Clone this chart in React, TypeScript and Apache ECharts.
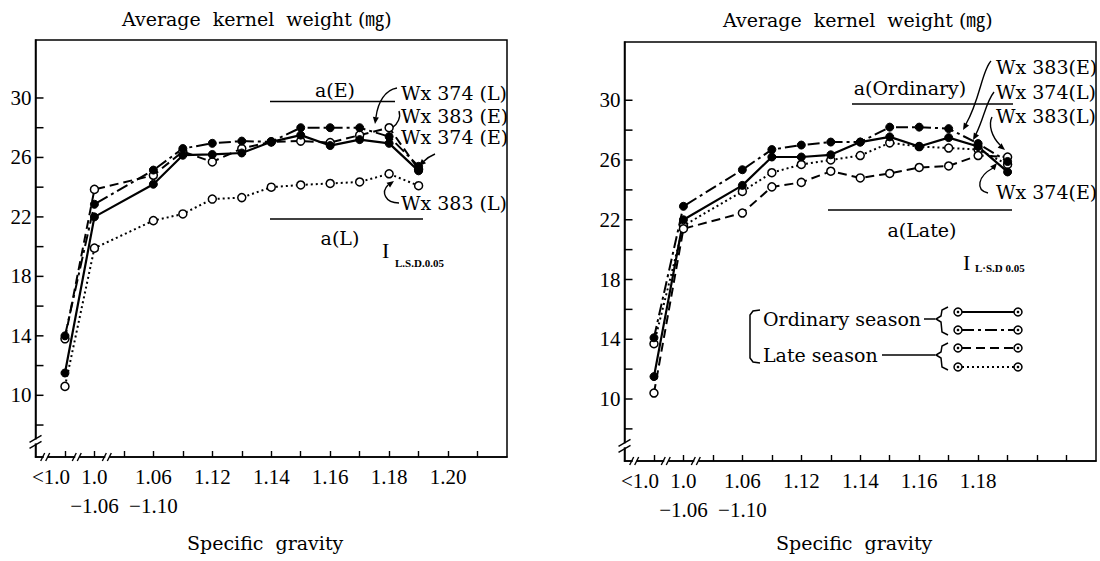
import React, { useEffect, useRef } from "react";
import * as echarts from "echarts";

// ---------- data ----------
const SG_CLASSES = ["<1.0", "1.0−1.06", "1.06−1.10", "1.11", "1.12", "1.13", "1.14", "1.15", "1.16", "1.17", "1.18", "1.19"];

// tick labels of the specific-gravity axis (one per tick, from tick 0)
const X_LABELS_LEFT = ["<1.0", "1.0\n−1.06", "", "1.06\n−1.10", "", "1.12", "", "1.14", "", "1.16", "", "1.18", "", "1.20", "", ""];
const X_LABELS_RIGHT = ["<1.0", "1.0\n−1.06", "", "1.06\n−1.10", "", "1.12", "", "1.14", "", "1.16", "", "1.18", "", "", "", ""];

const Y_TICKS = [8, 10, 12, 14, 16, 18, 20, 22, 24, 26, 28, 30];
const Y_LABELS = [10, 14, 18, 22, 26, 30];

// left panel (mg)
const L_WX374E = [11.5, 22.0, 24.2, 26.15, 26.2, 26.3, 27.05, 27.5, 26.8, 27.2, 26.95, 25.1]; // solid
const L_WX374L = [14.0, 22.85, 25.15, 26.6, 26.95, 27.1, 27.05, 28.0, 28.0, 28.0, 27.4, 25.4]; // dash-dot
const L_WX383E = [13.8, 23.85, 24.8, 26.4, 25.7, 26.6, 27.05, 27.1, 27.0, 27.5, 28.0, 25.2]; // dashed
const L_WX383L = [10.6, 19.9, 21.75, 22.2, 23.2, 23.3, 24.0, 24.15, 24.25, 24.35, 24.9, 24.1]; // dotted

// right panel (mg)
const R_ORD_SOLID = [11.5, 22.0, 24.3, 26.2, 26.2, 26.35, 27.2, 27.55, 26.9, 27.5, 26.9, 25.2];
const R_ORD_DASHDOT = [14.1, 22.9, 25.35, 26.7, 27.0, 27.2, 27.2, 28.2, 28.2, 28.1, 27.1, 25.9];
const R_LATE_DASHED = [10.4, 21.4, 22.45, 24.2, 24.5, 25.25, 24.8, 25.1, 25.5, 25.6, 26.3, 26.2];
const R_LATE_DOTTED = [13.7, 21.6, 23.9, 25.15, 25.7, 26.0, 26.3, 27.15, 26.9, 26.8, 26.7, 25.7];

// ---------- styling ----------
const NUM_FONT = '"Liberation Serif", "Times New Roman", serif';
const TXT_FONT = '"DejaVu Serif", "Noto Sans CJK JP", serif';
const Y_MIN = 5.85;
const Y_MAX = 33.9;
const DASHDOT = [12, 4, 3, 4];
const DASHED = [9, 5];
const DOTTED = [2, 3];

// axis position of each class (one empty tick after the second class)
const axisPos = (i: number) => (i < 2 ? i : i + 1);
const toPoints = (vals: number[]) => vals.map((v, i) => [axisPos(i), v]);

function lineSeries(name: string, vals: number[], grid: number, dash: any, filled: boolean, width: number) {
  return {
    name,
    type: "line",
    xAxisIndex: grid,
    yAxisIndex: grid,
    data: toPoints(vals),
    symbol: "circle",
    symbolSize: 8,
    lineStyle: { color: "#000", width, type: dash },
    itemStyle: filled
      ? { color: "#000", borderColor: "#000", borderWidth: 1 }
      : { color: "#fff", borderColor: "#000", borderWidth: 1.5 },
    z: 3,
  };
}

function tickSeries(grid: number) {
  return {
    type: "custom",
    xAxisIndex: grid,
    yAxisIndex: grid,
    clip: false,
    silent: true,
    z: 5,
    data: Y_TICKS.map((v) => [-1, v]),
    renderItem: (params: any, api: any) => {
      const v = api.value(1);
      const p = api.coord([-1, v]);
      const children: any[] = [
        { type: "line", shape: { x1: p[0], y1: p[1], x2: p[0] + 8, y2: p[1] }, style: { stroke: "#000", lineWidth: 1.5 } },
      ];
      if (Y_LABELS.indexOf(v) >= 0) {
        children.push({
          type: "text",
          x: p[0] - 4,
          y: p[1],
          style: {
            text: String(v),
            fill: "#000",
            fontSize: 21,
            fontFamily: NUM_FONT,
            align: "right",
            verticalAlign: "middle",
            textAlign: "right",
            textVerticalAlign: "middle",
          },
        });
      }
      return { type: "group", children };
    },
  };
}

function breakSeries(grid: number) {
  return {
    type: "custom",
    xAxisIndex: grid,
    yAxisIndex: grid,
    clip: false,
    silent: true,
    z: 6,
    data: [
      [-0.62, Y_MIN, 0],
      [0.45, Y_MIN, 0],
      [1.47, Y_MIN, 0],
      [-1, 6.9, 1],
    ],
    renderItem: (params: any, api: any) => {
      const p = api.coord([api.value(0), api.value(1)]);
      const kind = api.value(2);
      const st = { stroke: "#000", lineWidth: 1.4 };
      if (kind === 0) {
        return {
          type: "group",
          children: [
            { type: "rect", shape: { x: p[0] - 3, y: p[1] - 2.5, width: 4, height: 5 }, style: { fill: "#fff" } },
            { type: "line", shape: { x1: p[0] - 6, y1: p[1] + 4, x2: p[0] - 2, y2: p[1] - 4 }, style: st },
            { type: "line", shape: { x1: p[0] - 1, y1: p[1] + 4, x2: p[0] + 3, y2: p[1] - 4 }, style: st },
          ],
        };
      }
      return {
        type: "group",
        children: [
          { type: "rect", shape: { x: p[0] - 2.5, y: p[1] - 2, width: 5, height: 4 }, style: { fill: "#fff" } },
          { type: "line", shape: { x1: p[0] - 6, y1: p[1] + 1, x2: p[0] + 6, y2: p[1] - 6 }, style: st },
          { type: "line", shape: { x1: p[0] - 6, y1: p[1] + 7, x2: p[0] + 6, y2: p[1] }, style: st },
        ],
      };
    },
  };
}

function xAxis(grid: number, labels: string[]) {
  return {
    type: "value",
    gridIndex: grid,
    min: -1,
    max: 15,
    interval: 1,
    axisLine: { onZero: false, lineStyle: { color: "#000", width: 1.5 } },
    axisTick: { inside: true, length: 6, lineStyle: { color: "#000", width: 1.4 } },
    splitLine: { show: false },
    axisLabel: {
      show: true,
      showMinLabel: false,
      showMaxLabel: false,
      margin: 5,
      color: "#000",
      fontFamily: NUM_FONT,
      fontSize: 21,
      lineHeight: 29,
      formatter: (v: number) => {
        const s = labels[Math.round(v)] || "";
        if (!s) return "";
        if (s === "<1.0") return "{lt|<1.0}";
        return s;
      },
      rich: {
        lt: { fontFamily: NUM_FONT, fontSize: 21, color: "#000", padding: [0, 28, 0, 0], lineHeight: 29 },
      },
    },
  };
}

function yAxis(grid: number) {
  return {
    type: "value",
    gridIndex: grid,
    min: Y_MIN,
    max: Y_MAX,
    axisLine: { show: true, onZero: false, lineStyle: { color: "#000", width: 1.5 } },
    axisTick: { show: false },
    axisLabel: { show: false },
    splitLine: { show: false },
  };
}

// ---------- graphic helpers ----------
function T(x: number, y: number, text: string, size = 19, align = "left", font = TXT_FONT, weight = "normal") {
  return {
    type: "text",
    x,
    y,
    silent: true,
    style: {
      text,
      fill: "#000",
      fontSize: size,
      fontFamily: font,
      fontWeight: weight,
      align,
      textAlign: align,
      verticalAlign: "middle",
      textVerticalAlign: "middle",
    },
  };
}
function L(x1: number, y1: number, x2: number, y2: number, w = 1.5, dash?: number[]) {
  return {
    type: "line",
    silent: true,
    shape: { x1, y1, x2, y2 },
    style: { stroke: "#000", lineWidth: w, lineDash: dash || null },
  };
}
function B(x1: number, y1: number, c1x: number, c1y: number, c2x: number, c2y: number, x2: number, y2: number) {
  return {
    type: "bezierCurve",
    silent: true,
    shape: { x1, y1, cpx1: c1x, cpy1: c1y, cpx2: c2x, cpy2: c2y, x2, y2 },
    style: { stroke: "#000", lineWidth: 1.4, fill: null },
  };
}
function head(x: number, y: number, fromX: number, fromY: number) {
  const a = Math.atan2(y - fromY, x - fromX);
  const len = 7;
  const wd = 3;
  const bx = x - len * Math.cos(a);
  const by = y - len * Math.sin(a);
  return {
    type: "polygon",
    silent: true,
    shape: {
      points: [
        [x, y],
        [bx + wd * Math.sin(a), by - wd * Math.cos(a)],
        [bx - wd * Math.sin(a), by + wd * Math.cos(a)],
      ],
    },
    style: { fill: "#000" },
  };
}
function P(points: number[][], w = 1.5, dash?: number[]) {
  return { type: "polyline", silent: true, shape: { points }, style: { stroke: "#000", lineWidth: w, fill: null, lineDash: dash || null } };
}
function dotCircle(cx: number, cy: number) {
  return [
    { type: "circle", silent: true, shape: { cx, cy, r: 4 }, style: { fill: "#fff", stroke: "#000", lineWidth: 1.5 } },
    { type: "circle", silent: true, shape: { cx, cy, r: 1.3 }, style: { fill: "#000" } },
  ];
}
function legendRow(y: number, dash: number[] | undefined) {
  return [L(962, y, 1014, y, 2, dash), ...dotCircle(958, y), ...dotCircle(1018, y)];
}

const graphicEls: any[] = [
  // titles
  T(122, 19, "Average  kernel  weight (㎎)"),
  T(723, 20, "Average  kernel  weight (㎎)"),
  T(187, 543, "Specific  gravity"),
  T(776, 543, "Specific  gravity"),

  // left panel annotations
  T(335, 90, "a(E)", 19, "center"),
  L(270, 101.5, 395, 101.5),
  T(401, 93, "Wx 374 (L)"),
  T(401, 116, "Wx 383 (E)"),
  T(401, 137, "Wx 374 (E)"),
  T(401, 203, "Wx 383 (L)"),
  L(270, 219, 423, 219),
  T(340, 238, "a(L)", 19, "center"),
  T(382, 250, "I", 22, "left", NUM_FONT),
  T(395, 263, "L.S.D.0.05", 11, "left", NUM_FONT, "bold"),
  B(397, 88, 385, 90, 378, 102, 376, 117),
  head(375, 124, 376, 116),
  B(399, 111, 401, 117, 398, 124, 392, 128),
  B(435, 154, 430, 156, 426, 159, 423, 162),
  head(419, 166, 424, 161),
  B(399, 203, 385, 203, 381, 192, 388, 185),
  head(394, 181, 387, 186),

  // right panel annotations
  T(910, 88, "a(Ordinary)", 19, "center"),
  L(852, 104, 1013, 104),
  T(996, 67, "Wx 383(E)"),
  T(996, 92, "Wx 374(L)"),
  T(996, 116, "Wx 383(L)"),
  T(996, 192, "Wx 374(E)"),
  L(828, 210, 1012, 210),
  T(922, 230, "a(Late)", 19, "center"),
  T(963, 262, "I", 22, "left", NUM_FONT),
  T(975, 268, "L·S.D 0.05", 11, "left", NUM_FONT, "bold"),
  B(991, 61, 982, 70, 980, 100, 966, 124),
  head(963, 130, 967, 123),
  B(994, 92, 986, 102, 984, 118, 976, 134),
  head(973, 140, 977, 133),
  B(992, 117, 988, 125, 992, 137, 1000, 145),
  head(1005, 150, 999, 145),
  B(988, 193, 975, 190, 978, 176, 993, 168),
  head(997, 163, 992, 169),

  // legend of right panel
  P([[760, 310], [753, 311], [750, 315], [750, 358], [753, 362], [760, 363]]),
  T(763, 319, "Ordinary season"),
  T(763, 355, "Late season"),
  L(924, 319, 935, 319),
  P([[948, 307], [942, 310], [941, 316], [936, 319], [941, 322], [942, 332], [948, 335]]),
  L(882, 355, 935, 355),
  P([[948, 343], [942, 346], [941, 352], [936, 355], [941, 358], [942, 367], [948, 370]]),
  ...legendRow(312, undefined),
  ...legendRow(330, DASHDOT),
  ...legendRow(348, DASHED),
  ...legendRow(367, DOTTED),
];

export default function App() {
  const ref = useRef<HTMLDivElement>(null);
  useEffect(() => {
    if (!ref.current) return;
    const chart = echarts.init(ref.current, undefined, { renderer: "svg" });
    const option: any = {
      animation: false,
      backgroundColor: "#fff",
      grid: [
        { left: 35.5, top: 40, width: 471.5, height: 417, show: true, borderColor: "#000", borderWidth: 1.5, backgroundColor: "transparent" },
        { left: 624.5, top: 42, width: 471.5, height: 419, show: true, borderColor: "#000", borderWidth: 1.5, backgroundColor: "transparent" },
      ],
      xAxis: [xAxis(0, X_LABELS_LEFT), xAxis(1, X_LABELS_RIGHT)],
      yAxis: [yAxis(0), yAxis(1)],
      series: [
        lineSeries("Wx 383 (L)", L_WX383L, 0, DOTTED, false, 2),
        lineSeries("Wx 383 (E)", L_WX383E, 0, DASHED, false, 2),
        lineSeries("Wx 374 (E)", L_WX374E, 0, "solid", true, 2.2),
        lineSeries("Wx 374 (L)", L_WX374L, 0, DASHDOT, true, 2),
        lineSeries("Late season (dotted)", R_LATE_DOTTED, 1, DOTTED, false, 2),
        lineSeries("Late season (dashed)", R_LATE_DASHED, 1, DASHED, false, 2),
        lineSeries("Ordinary season (solid)", R_ORD_SOLID, 1, "solid", true, 2.2),
        lineSeries("Ordinary season (dash-dot)", R_ORD_DASHDOT, 1, DASHDOT, true, 2),
        tickSeries(0),
        tickSeries(1),
        breakSeries(0),
        breakSeries(1),
      ],
      graphic: { elements: graphicEls },
    };
    chart.setOption(option);
    return () => chart.dispose();
  }, []);
  return <div ref={ref} style={{ position: "absolute", left: 0, top: 0, width: 1100, height: 561, background: "#fff" }} />;
}
